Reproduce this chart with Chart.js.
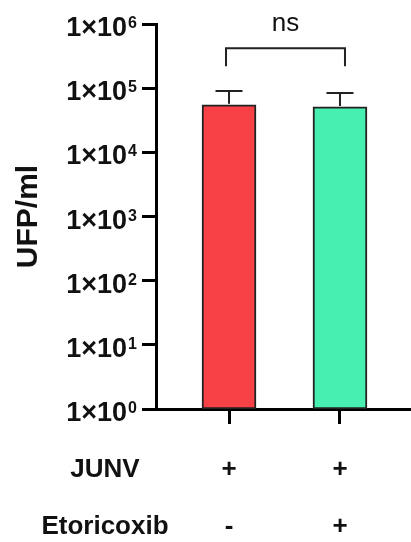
<!DOCTYPE html>
<html>
<head>
<meta charset="utf-8">
<script src="https://cdn.jsdelivr.net/npm/chart.js@4.4.0/dist/chart.umd.min.js"></script>
<style>
  html, body { margin: 0; padding: 0; background: #fff; }
  #wrap { width: 411px; height: 542px; }
</style>
</head>
<body>
<div id="wrap"><canvas id="chart" width="411" height="542"></canvas></div>
<script>
// chart data
const groups = ['JUNV', 'JUNV + Etoricoxib'];
const groupPos = [1, 2];
const meanTiter = [55000, 51000];
const errTop = [90000, 84000];
const barColors = ['#f84147', '#47efb0'];

// treatment table under the x axis
const rowNames = ['JUNV', 'Etoricoxib'];
const junvRow = ['+', '+'];
const etoRow = ['-', '+'];

// log axis ticks
const yTicks = [1, 10, 100, 1000, 10000, 100000, 1000000];
const yTitle = 'UFP/ml';

// significance bracket
const sigLabel = 'ns';
const bracketTop = 420000;
const bracketFoot = 220000;

const FONT = '"Liberation Sans", Arial, Helvetica, sans-serif';

// draws error bars, tick labels, title, bracket and the +/- table
const annotations = {
  id: 'annotations',
  afterDatasetsDraw(chart) {
    const ctx = chart.ctx;
    const x = chart.scales.x, y = chart.scales.y;
    const area = chart.chartArea;
    const meta = chart.getDatasetMeta(0);
    ctx.save();

    // upper error bars
    ctx.strokeStyle = '#222';
    ctx.lineWidth = 2;
    meta.data.forEach((bar, i) => {
      const yt = y.getPixelForValue(errTop[i]);
      ctx.beginPath();
      ctx.moveTo(bar.x, bar.y - 1);
      ctx.lineTo(bar.x, yt);
      ctx.moveTo(bar.x - 13.5, yt);
      ctx.lineTo(bar.x + 13.5, yt);
      ctx.stroke();
    });

    // y tick labels as 1x10^n
    ctx.fillStyle = '#111';
    ctx.textAlign = 'left';
    ctx.textBaseline = 'alphabetic';
    yTicks.forEach(v => {
      const py = y.getPixelForValue(v);
      const exp = String(Math.round(Math.log10(v)));
      ctx.font = 'bold 16px ' + FONT;
      const wSup = ctx.measureText(exp).width;
      ctx.font = 'bold 27px ' + FONT;
      const base = '1×10';
      const wBase = ctx.measureText(base).width;
      const right = 137;
      ctx.fillText(base, right - wSup - 1 - wBase, py + 12);
      ctx.font = 'bold 16px ' + FONT;
      ctx.fillText(exp, right - wSup, py + 4);
    });

    // y axis title
    ctx.save();
    ctx.translate(29, (area.top + area.bottom) / 2);
    ctx.rotate(-Math.PI / 2);
    ctx.textAlign = 'center';
    ctx.textBaseline = 'middle';
    ctx.font = 'bold 30px ' + FONT;
    ctx.fillText(yTitle, 0, 0);
    ctx.restore();

    // significance bracket
    const x1 = x.getPixelForValue(groupPos[0]) - 3;
    const x2 = x.getPixelForValue(groupPos[1]) + 5;
    const yb = y.getPixelForValue(bracketTop);
    const yf = y.getPixelForValue(bracketFoot);
    ctx.strokeStyle = '#222';
    ctx.lineWidth = 2;
    ctx.beginPath();
    ctx.moveTo(x1, yf);
    ctx.lineTo(x1, yb);
    ctx.lineTo(x2, yb);
    ctx.lineTo(x2, yf);
    ctx.stroke();
    ctx.font = '26px ' + FONT;
    ctx.textAlign = 'center';
    ctx.fillText(sigLabel, (x1 + x2) / 2, y.getPixelForValue(1e6) + 7);

    // treatment table
    const rows = [junvRow, etoRow];
    const baselines = [477, 534];
    ctx.font = 'bold 26px ' + FONT;
    rows.forEach((row, r) => {
      ctx.textAlign = 'center';
      ctx.fillText(rowNames[r], 105, baselines[r]);
      row.forEach((s, i) => {
        ctx.fillText(s, x.getPixelForValue(groupPos[i]), baselines[r]);
      });
    });

    ctx.restore();
  }
};

new Chart(document.getElementById('chart'), {
  type: 'bar',
  data: {
    labels: groups,
    datasets: [{
      data: groupPos.map((p, i) => ({ x: p, y: meanTiter[i] })),
      backgroundColor: barColors,
      borderColor: '#222',
      borderWidth: 2,
      borderSkipped: false,
      barThickness: 54
    }]
  },
  options: {
    responsive: false,
    devicePixelRatio: 1,
    animation: false,
    layout: { padding: { top: 24, right: 0, left: 0, bottom: 0 } },
    plugins: { legend: { display: false }, tooltip: { enabled: false } },
    scales: {
      x: {
        type: 'linear',
        min: 0.342,
        max: 2.64,
        offset: false,
        afterBuildTicks: s => { s.ticks = groupPos.map(v => ({ value: v })); },
        afterFit: s => { s.height = 133; },
        ticks: { display: false },
        grid: { offset: false, drawOnChartArea: false, drawTicks: true, tickLength: 15, lineWidth: 3, color: '#000' },
        border: { display: true, width: 3, color: '#000' }
      },
      y: {
        type: 'logarithmic',
        min: 1,
        max: 1000000,
        afterBuildTicks: s => { s.ticks = yTicks.map(v => ({ value: v })); },
        afterFit: s => { s.width = 156; },
        ticks: { display: false },
        grid: { drawOnChartArea: false, drawTicks: true, tickLength: 14, lineWidth: 3, color: '#000' },
        border: { display: true, width: 3, color: '#000' }
      }
    }
  },
  plugins: [annotations]
});
</script>
</body>
</html>
